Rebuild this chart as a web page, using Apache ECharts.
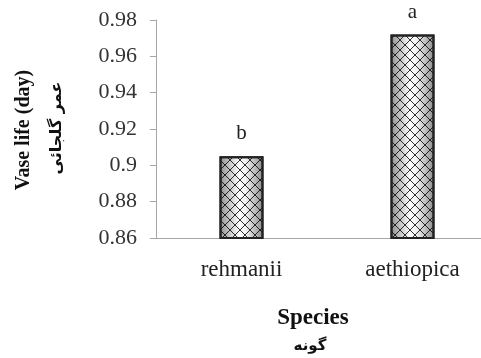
<!DOCTYPE html>
<html><head><meta charset="utf-8">
<script src="https://cdn.jsdelivr.net/npm/echarts@6/dist/echarts.min.js"></script>
<style>html,body{margin:0;padding:0;background:#fff}#c{width:481px;height:358px}</style>
</head><body><div id="c"></div>
<script>
const categories = ['rehmanii', 'aethiopica'];
const vaseLife = [0.905, 0.972];
const letters = ['b', 'a'];
const yTicks = { min: 0.86, max: 0.98, interval: 0.02 };

const pc = document.createElement('canvas');
pc.width = 10; pc.height = 10;
const g = pc.getContext('2d');
g.strokeStyle = 'rgba(0,0,0,0.8)';
g.lineWidth = 1;
g.beginPath();
g.moveTo(0, 0); g.lineTo(10, 10);
g.moveTo(10, 0); g.lineTo(0, 10);
g.stroke();

const serif = '"Liberation Serif", "Times New Roman", serif';
const chart = echarts.init(document.getElementById('c'));
chart.setOption({
  animation: false,
  grid: { left: 156, top: 20, width: 342, height: 218, containLabel: false, outerBoundsMode: 'none' },
  xAxis: {
    type: 'category', data: categories,
    axisLine: { lineStyle: { color: '#a6a6a6', width: 1 } },
    axisTick: { show: false },
    axisLabel: { color: '#222', fontFamily: serif, fontSize: 23, margin: 20 }
  },
  yAxis: {
    type: 'value', min: yTicks.min, max: yTicks.max, interval: yTicks.interval,
    axisLine: { show: true, lineStyle: { color: '#a6a6a6', width: 1 } },
    axisTick: { show: true, length: 6, lineStyle: { color: '#a6a6a6' } },
    splitLine: { show: false },
    axisLabel: { color: '#333', fontFamily: serif, fontSize: 22, margin: 19 }
  },
  series: [
    {
      type: 'bar', data: vaseLife, barWidth: 44, barGap: '-100%',
      itemStyle: {
        color: new echarts.graphic.LinearGradient(0, 0, 1, 0, [
          { offset: 0, color: '#8c8c8c' },
          { offset: 0.45, color: '#ffffff' },
          { offset: 0.6, color: '#f2f2f2' },
          { offset: 1, color: '#888888' }
        ]),
        borderColor: '#222', borderWidth: 2
      },
      label: {
        show: true, position: 'top', distance: 12,
        formatter: p => letters[p.dataIndex],
        color: '#222', fontFamily: serif, fontSize: 21
      }
    },
    {
      type: 'bar', data: vaseLife, barWidth: 44, barGap: '-100%',
      itemStyle: { color: { image: pc, repeat: 'repeat' }, borderColor: '#222', borderWidth: 2 },
      silent: true
    }
  ],
  graphic: [
    { type: 'text', x: 24, y: 130, rotation: Math.PI / 2,
      style: { text: 'Vase life (day)', font: 'bold 20px ' + serif, fill: '#111', align: 'center', verticalAlign: 'middle' } },
    { type: 'text', x: 57, y: 128, rotation: Math.PI / 2,
      style: { text: 'عمر گلجائی', font: 'bold 16px "DejaVu Sans"', fill: '#111', align: 'center', verticalAlign: 'middle' } },
    { type: 'text', x: 313, y: 318,
      style: { text: 'Species', font: 'bold 23px ' + serif, fill: '#111', align: 'center', verticalAlign: 'middle' } },
    { type: 'text', x: 310, y: 346,
      style: { text: 'گونه', font: 'bold 15px "DejaVu Sans"', fill: '#111', align: 'center', verticalAlign: 'middle' } }
  ]
});
</script></body></html>
